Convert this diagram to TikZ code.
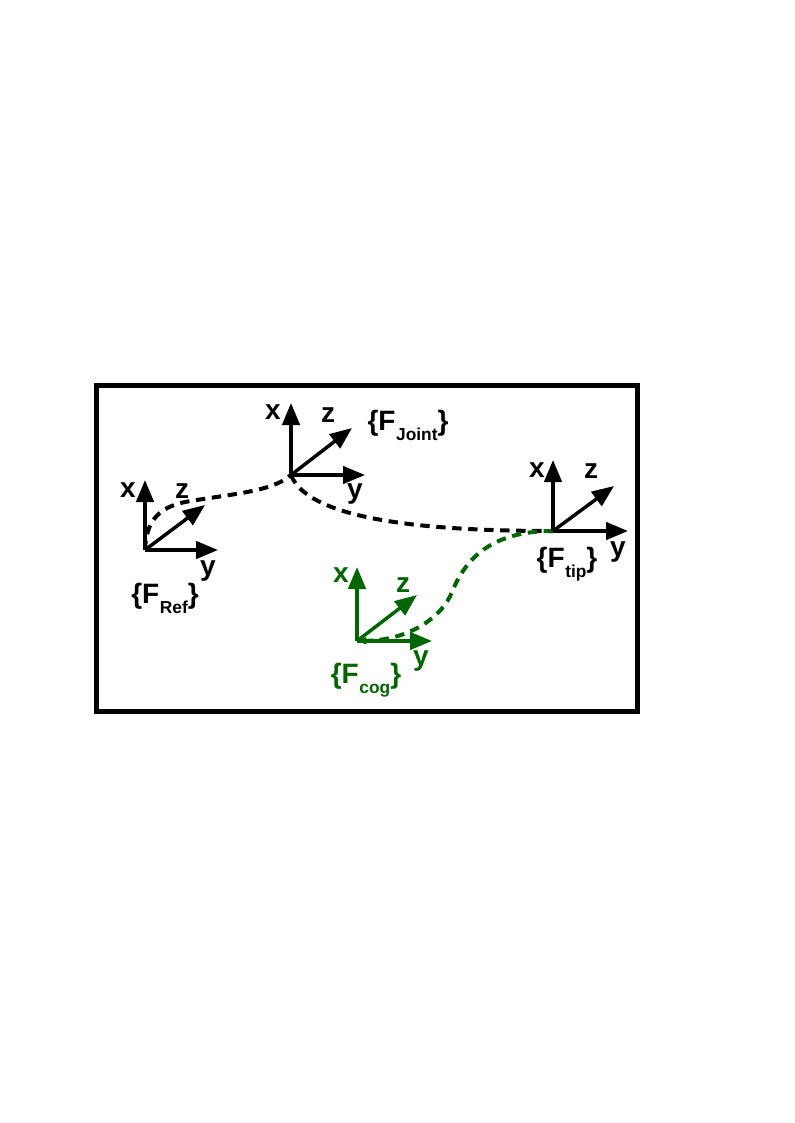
\documentclass[tikz,border=0pt]{standalone}
\usepackage{fontspec}
\setmainfont{Liberation Sans}
\usetikzlibrary{arrows.meta}
\definecolor{coggreen}{RGB}{0,102,0}
\newcommand{\fname}[1]{\{F\kern0.5pt\raisebox{-8pt}{\fontsize{13}{15}\selectfont #1}\}}

\begin{document}
\begin{tikzpicture}[x=0.75pt, y=-0.75pt,
    axis/.style={line width=2.6pt, -{Triangle[length=16.5pt, width=13pt]}},
    lbl/.style={inner sep=0pt, font=\fontsize{21}{25}\selectfont\bfseries},
    curve/.style={line width=3pt, dash pattern=on 7pt off 5pt}]

    \useasboundingbox (0,0) rectangle (794,1123);
    \draw[line width=3.75pt] (96,385.5) rectangle (637.5,711.5);

    \coordinate (ref) at (145,550);
    \coordinate (refX) at (145,480);
    \coordinate (refY) at (218,550);
    \coordinate (refZ) at (205,505);
    \coordinate (joint) at (291,475);
    \coordinate (jointX) at (291,403);
    \coordinate (jointY) at (365,475);
    \coordinate (jointZ) at (352,428);
    \coordinate (tip) at (553,531);
    \coordinate (tipX) at (553,460);
    \coordinate (tipY) at (628,531);
    \coordinate (tipZ) at (614,486);
    \coordinate (cog) at (357,641);
    \coordinate (cogX) at (357,567);
    \coordinate (cogY) at (432,641);
    \coordinate (cogZ) at (417,595);

    \draw[curve] (ref) .. controls (146,524) and (156,508) .. (185,502)
        .. controls (230,494) and (272,492) .. (joint);
    \draw[curve] (joint) .. controls (305,510) and (380,531) .. (tip);
    \draw[curve, coggreen, -{Triangle[length=7pt, width=5pt]}] (tip) .. controls (490,531) and (465,560) .. (452,592)
        .. controls (442,617) and (410,640) .. (cog);

    \draw[axis] (ref) -- (refX);
    \draw[axis] (ref) -- (refY);
    \draw[axis] (ref) -- (refZ);
    \draw[axis] (joint) -- (jointX);
    \draw[axis] (joint) -- (jointY);
    \draw[axis] (joint) -- (jointZ);
    \draw[axis] (tip) -- (tipX);
    \draw[axis] (tip) -- (tipY);
    \draw[axis] (tip) -- (tipZ);
    \draw[axis, coggreen] (cog) -- (cogX);
    \draw[axis, coggreen] (cog) -- (cogY);
    \draw[axis, coggreen] (cog) -- (cogZ);

    \node[lbl] (refXl) at (128,490) {x};
    \node[lbl] (refZl) at (182,491) {z};
    \node[lbl] (refYl) at (208,571) {y};
    \node[lbl, anchor=base] (refName) at (165,603) {\fname{Ref}};
    \node[lbl] (jointXl) at (273,412) {x};
    \node[lbl] (jointZl) at (328,415) {z};
    \node[lbl] (jointYl) at (355,494) {y};
    \node[lbl, anchor=base] (jointName) at (408,430) {\fname{Joint}};
    \node[lbl] (tipXl) at (537,470) {x};
    \node[lbl] (tipZl) at (591,471) {z};
    \node[lbl] (tipYl) at (618,552) {y};
    \node[lbl, anchor=base] (tipName) at (567,567) {\fname{tip}};
    \node[lbl, coggreen] (cogXl) at (341,575) {x};
    \node[lbl, coggreen] (cogZl) at (403,585) {z};
    \node[lbl, coggreen] (cogYl) at (421,661) {y};
    \node[lbl, coggreen, anchor=base] (cogName) at (366,683) {\fname{cog}};
\end{tikzpicture}
\end{document}
